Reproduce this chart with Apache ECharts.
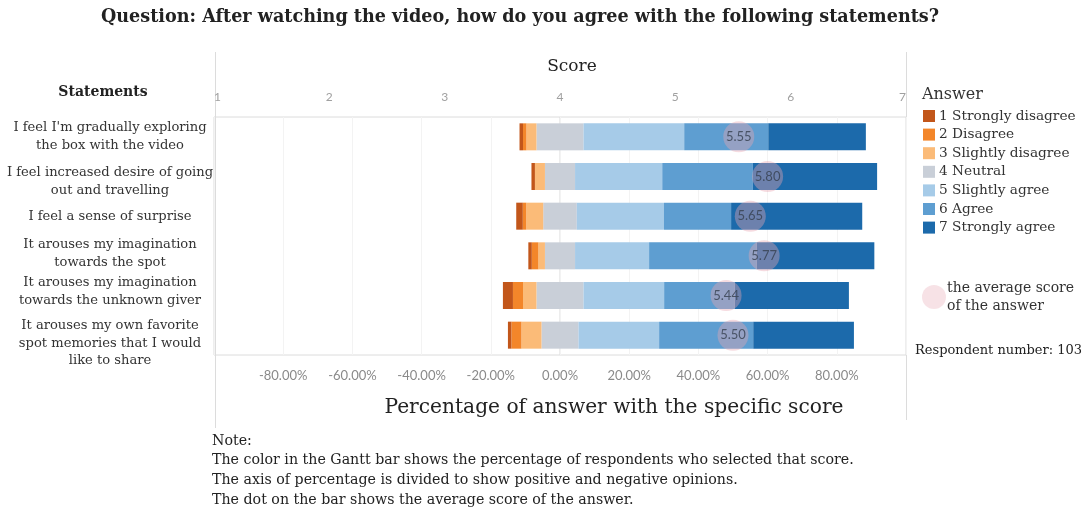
<!DOCTYPE html>
<html>
<head>
<meta charset="utf-8">
<script src="https://cdn.jsdelivr.net/npm/echarts@6/dist/echarts.min.js"></script>
<style>
  html, body { margin: 0; padding: 0; background: #fff; }
  #chart { width: 1088px; height: 511px; }
</style>
</head>
<body>
<div id="chart"></div>
<script>
// ---- data ----
const categories = [
  "I feel I'm gradually exploring\nthe box with the video",
  "I feel increased desire of going\nout and travelling",
  "I feel a sense of surprise",
  "It arouses my imagination\ntowards the spot",
  "It arouses my imagination\ntowards the unknown giver",
  "It arouses my own favorite\nspot memories that I would\nlike to share"
];
const answerNames = ["1 Strongly disagree", "2 Disagree", "3 Slightly disagree", "4 Neutral", "5 Slightly agree", "6 Agree", "7 Strongly agree"];
// percentage of respondents per score
const stronglyDisagree = [1.0, 1.0, 1.9, 1.0, 2.9, 1.0];
const disagree         = [1.0, 0.0, 1.0, 1.9, 2.9, 2.9];
const slightlyDisagree = [2.9, 2.9, 4.9, 1.9, 3.9, 5.8];
const neutral          = [13.6, 8.7, 9.7, 8.7, 13.6, 10.7];
const slightlyAgree    = [29.1, 25.2, 25.2, 21.4, 23.3, 23.3];
const agree            = [24.3, 26.2, 19.4, 31.1, 20.4, 27.2];
const stronglyAgree    = [28.2, 35.9, 37.9, 34.0, 33.0, 29.1];
const avgScore         = [5.55, 5.80, 5.65, 5.77, 5.44, 5.50];
const scoreTicks = [1, 2, 3, 4, 5, 6, 7];
const percentTicks = [-80, -60, -40, -20, 0, 20, 40, 60, 80];
const respondents = 103;

const colors = ["#c2561a", "#f3862a", "#fbbb78", "#c9cfd8", "#a6cbe8", "#5e9ed1", "#1c6aab"];
const serif = "DejaVu Serif";
const sans = "Lato";
// small vertical nudges (px, + = down) of the statement labels, as laid out in the reference
const labelShift = [0, 5, 0, -2, -4, 8];

const neg = a => a.map(v => -v);
const half = a => a.map(v => v / 2);

function barSeries(name, data, color) {
  return {
    name: name, type: 'bar', stack: 'likert', data: data,
    xAxisIndex: 0, yAxisIndex: 0, barWidth: 27,
    itemStyle: { color: color }, emphasis: { disabled: true }
  };
}

const labelRich = { t: { fontFamily: serif, fontSize: 13.1, color: '#333', lineHeight: 17.5, align: 'center' } };
labelShift.forEach((d, i) => {
  if (d !== 0) labelRich['s' + i] = { fontSize: 1, lineHeight: Math.abs(d) * 2, height: Math.abs(d) * 2 };
});
function statementLabel(value, idx) {
  const i = categories.indexOf(value);
  const body = value.split('\n').map(l => '{t|' + l + '}').join('\n');
  const d = labelShift[i] || 0;
  if (d > 0) return '{s' + i + '| }\n' + body;
  if (d < 0) return body + '\n{s' + i + '| }';
  return body;
}

const dotName = 'the average score\nof the answer';
const series = [
  barSeries(answerNames[3], neg(half(neutral)), colors[3]),
  barSeries(answerNames[2], neg(slightlyDisagree), colors[2]),
  barSeries(answerNames[1], neg(disagree), colors[1]),
  barSeries(answerNames[0], neg(stronglyDisagree), colors[0]),
  barSeries(answerNames[3], half(neutral), colors[3]),
  barSeries(answerNames[4], slightlyAgree, colors[4]),
  barSeries(answerNames[5], agree, colors[5]),
  barSeries(answerNames[6], stronglyAgree, colors[6]),
  {
    name: dotName, type: 'scatter',
    xAxisIndex: 1, yAxisIndex: 0,
    data: avgScore.map((v, i) => [v, categories[i]]),
    symbolSize: 31, z: 5,
    itemStyle: { color: 'rgba(232,164,178,0.5)' },
    label: {
      show: true, position: 'inside',
      formatter: p => p.value[0].toFixed(2),
      fontFamily: sans, fontSize: 13, color: '#36404f'
    }
  }
];

const chart = echarts.init(document.getElementById('chart'), null, { renderer: 'canvas' });
chart.setOption({
  animation: false,
  backgroundColor: '#fff',
  grid: { left: 214, right: 182, top: 117, bottom: 156, show: true, borderColor: '#dcdcdc', borderWidth: 1 },
  xAxis: [
    {
      type: 'value', position: 'bottom', min: -100, max: 100, interval: 20,
      axisLine: { show: false }, axisTick: { show: false },
      splitLine: { show: true, lineStyle: { color: '#f3f3f3' } },
      axisLabel: {
        margin: 14, fontFamily: sans, fontSize: 13, color: '#8a8a8a',
        formatter: v => percentTicks.indexOf(v) >= 0 ? v.toFixed(2) + '%' : ''
      }
    },
    {
      type: 'value', position: 'top', min: scoreTicks[0], max: scoreTicks[scoreTicks.length - 1], interval: 1,
      axisLine: { show: false }, axisTick: { show: false }, splitLine: { show: false },
      axisLabel: {
        margin: 14, fontFamily: sans, fontSize: 12, color: '#a0a0a0',
        alignMinLabel: 'left', alignMaxLabel: 'right'
      }
    }
  ],
  yAxis: {
    type: 'category', inverse: true, data: categories,
    axisLine: { show: false }, axisTick: { show: false },
    axisLabel: {
      interval: 0, margin: 104, align: 'center', fontFamily: serif, fontSize: 13.1, color: '#333', lineHeight: 17.5,
      formatter: statementLabel, rich: labelRich
    }
  },
  legend: [
    {
      orient: 'vertical', left: 918, top: 104,
      data: answerNames.map((n, i) => ({ name: n, icon: 'rect', itemStyle: { color: colors[i] } })),
      itemWidth: 12, itemHeight: 12, itemGap: 4.6, itemStyle: { borderWidth: 0 },
      textStyle: { fontFamily: serif, fontSize: 13.7, color: '#333', padding: [0, 0, 0, -1] },
      selectedMode: false
    },
    {
      orient: 'vertical', left: 917, top: 274,
      data: [{ name: dotName, icon: 'circle', itemStyle: { color: 'rgba(236,190,198,0.55)' } }],
      itemWidth: 24, itemHeight: 24,
      textStyle: { fontFamily: serif, fontSize: 14, color: '#333', lineHeight: 18, padding: [0, 0, 0, -4] },
      selectedMode: false
    }
  ],
  graphic: [
    { type: 'text', x: 520, y: 17, style: { text: 'Question: After watching the video, how do you agree with the following statements?', font: 'bold 17.6px "' + serif + '"', fill: '#222', align: 'center', verticalAlign: 'middle' } },
    { type: 'text', x: 103, y: 92, style: { text: 'Statements', font: 'bold 14px "' + serif + '"', fill: '#222', align: 'center', verticalAlign: 'middle' } },
    { type: 'text', x: 572, y: 67, style: { text: 'Score', font: '17px "' + serif + '"', fill: '#222', align: 'center', verticalAlign: 'middle' } },
    { type: 'text', x: 614, y: 408, style: { text: 'Percentage of answer with the specific score', font: '20.2px "' + serif + '"', fill: '#222', align: 'center', verticalAlign: 'middle' } },
    { type: 'text', x: 922, y: 95, style: { text: 'Answer', font: '16px "' + serif + '"', fill: '#333', verticalAlign: 'middle' } },
    { type: 'text', x: 915, y: 351, style: { text: 'Respondent number: ' + respondents, font: '13px "' + serif + '"', fill: '#222', verticalAlign: 'middle' } },
    { type: 'text', x: 212, y: 431, style: { text: 'Note:\nThe color in the Gantt bar shows the percentage of respondents who selected that score.\nThe axis of percentage is divided to show positive and negative opinions.\nThe dot on the bar shows the average score of the answer.', font: '14.2px "' + serif + '"', fill: '#222', lineHeight: 19.7 } },
    { type: 'line', shape: { x1: 215.5, y1: 52, x2: 215.5, y2: 428 }, style: { stroke: '#dcdcdc', lineWidth: 1 } },
    { type: 'line', shape: { x1: 906.5, y1: 52, x2: 906.5, y2: 420 }, style: { stroke: '#dcdcdc', lineWidth: 1 } },
    { type: 'line', shape: { x1: 560, y1: 117, x2: 560, y2: 355 }, style: { stroke: '#dadada', lineWidth: 1 }, z: -1 }
  ],
  series: series
});
</script>
</body>
</html>
